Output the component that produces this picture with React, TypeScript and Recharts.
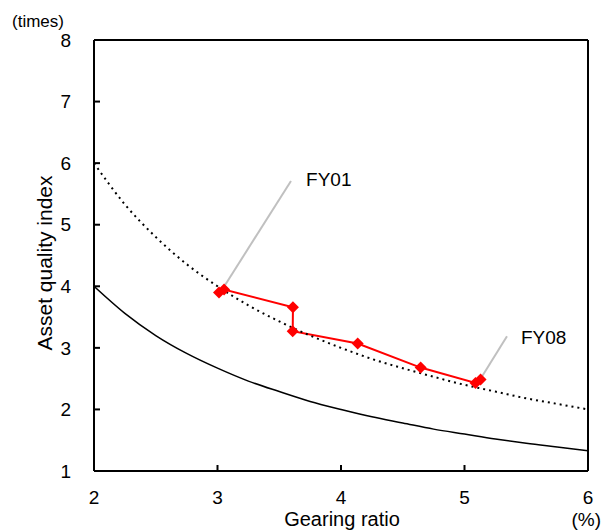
import React from 'react';
import { ComposedChart, Line, XAxis, YAxis, ReferenceLine, ReferenceDot, Label } from 'recharts';

// Axis ticks
const xTicks = [2, 3, 4, 5, 6];
const yTicks = [1, 2, 3, 4, 5, 6, 7, 8];

// Reference curves
const curveGearing = [2, 2.25, 2.5, 2.75, 3, 3.25, 3.5, 3.75, 4, 4.25, 4.5, 4.75, 5, 5.25, 5.5, 5.75, 6];
const solidCurve = [4.0, 3.56, 3.2, 2.91, 2.67, 2.46, 2.29, 2.13, 2.0, 1.88, 1.78, 1.68, 1.6, 1.52, 1.45, 1.39, 1.33];
const dottedCurve = [6.0, 5.33, 4.8, 4.36, 4.0, 3.69, 3.43, 3.2, 3.0, 2.82, 2.67, 2.53, 2.4, 2.29, 2.18, 2.09, 2.0];

// Fiscal year path
const fiscalYears = ['FY01', 'FY02', 'FY03', 'FY04', 'FY05', 'FY06', 'FY07', 'FY08'];
const fyGearing = [3.012, 3.053, 3.611, 3.609, 4.135, 4.645, 5.089, 5.13];
const fyAssetQuality = [3.9, 3.948, 3.66, 3.27, 3.07, 2.68, 2.429, 2.486];

// Callout annotations (data space)
const calloutNames = ['FY01', 'FY08'];
const calloutFrom = [{ x: 3.036, y: 3.94 }, { x: 5.109, y: 2.43 }];
const calloutTo = [{ x: 3.595, y: 5.71 }, { x: 5.344, y: 3.19 }];
const calloutText = [{ x: 3.717, y: 5.74 }, { x: 5.457, y: 3.18 }];

const curveData = curveGearing.map((x, i) => ({ x, solid: solidCurve[i], dotted: dottedCurve[i] }));
const fyData = fiscalYears.map((name, i) => ({ name, x: fyGearing[i], aq: fyAssetQuality[i] }));

const FONT = '"Liberation Sans", Arial, sans-serif';

const Diamond = (props: any) => {
  const { cx, cy } = props;
  if (cx == null || cy == null) return null;
  const r = 6;
  return (
    <polygon
      points={`${cx},${cy - r} ${cx + r},${cy} ${cx},${cy + r} ${cx - r},${cy}`}
      fill="#ff0000"
      stroke="none"
    />
  );
};

export default function App() {
  return (
    <div style={{ position: 'absolute', left: 0, top: 0, background: '#fff' }}>
      <ComposedChart
        width={606}
        height={531}
        margin={{ top: 40, right: 18, bottom: 0, left: 0 }}
        style={{ fontFamily: FONT }}
      >
        <XAxis
          dataKey="x"
          type="number"
          domain={[2, 6]}
          ticks={xTicks}
          interval={0}
          allowDataOverflow
          height={60}
          tickSize={-6}
          tickMargin={26}
          axisLine={{ stroke: '#000', strokeWidth: 2 }}
          tickLine={{ stroke: '#000', strokeWidth: 2 }}
          tick={{ fill: '#000', fontSize: 19, fontFamily: FONT }}
        >
          <Label
            content={() => (
              <g style={{ fontFamily: FONT }}>
                <text x={342} y={519} textAnchor="middle" dominantBaseline="central" fontSize={20} fill="#000">
                  Gearing ratio
                </text>
                <text x={601} y={519} textAnchor="end" dominantBaseline="central" fontSize={19} fill="#000">
                  (%)
                </text>
              </g>
            )}
          />
        </XAxis>
        <YAxis
          type="number"
          domain={[1, 8]}
          ticks={yTicks}
          interval={0}
          allowDataOverflow
          width={94}
          tickSize={-6}
          tickMargin={29}
          axisLine={{ stroke: '#000', strokeWidth: 2 }}
          tickLine={{ stroke: '#000', strokeWidth: 2 }}
          tick={{ fill: '#000', fontSize: 19, fontFamily: FONT }}
        >
          <Label
            content={() => (
              <g style={{ fontFamily: FONT }}>
                <text
                  x={44}
                  y={263}
                  transform="rotate(-90 44 263)"
                  textAnchor="middle"
                  dominantBaseline="central"
                  fontSize={21}
                  fill="#000"
                >
                  Asset quality index
                </text>
                <text x={12} y={21} textAnchor="start" dominantBaseline="central" fontSize={17} fill="#000">
                  (times)
                </text>
              </g>
            )}
          />
        </YAxis>
        <ReferenceLine y={8} stroke="#000" strokeWidth={2} />
        <ReferenceLine x={6} stroke="#000" strokeWidth={2} />
        <Line
          data={fyData}
          dataKey="aq"
          type="linear"
          stroke="#ff0000"
          strokeWidth={2}
          dot={<Diamond />}
          activeDot={false}
          isAnimationActive={false}
        />
        <Line
          data={curveData}
          dataKey="dotted"
          type="monotone"
          stroke="#000"
          strokeWidth={2}
          strokeDasharray="2 4"
          dot={false}
          activeDot={false}
          isAnimationActive={false}
        />
        <Line
          data={curveData}
          dataKey="solid"
          type="monotone"
          stroke="#000"
          strokeWidth={1.5}
          dot={false}
          activeDot={false}
          isAnimationActive={false}
        />
        {calloutNames.map((name, i) => (
          <ReferenceLine
            key={'l' + name}
            segment={[calloutFrom[i], calloutTo[i]]}
            stroke="#c0c0c0"
            strokeWidth={2}
          />
        ))}
        {calloutNames.map((name, i) => (
          <ReferenceDot
            key={'t' + name}
            x={calloutText[i].x}
            y={calloutText[i].y}
            r={0}
            fill="none"
            stroke="none"
            label={{ value: name, position: 'right', offset: 0, fill: '#000', fontSize: 19, fontFamily: FONT }}
          />
        ))}
      </ComposedChart>
    </div>
  );
}
